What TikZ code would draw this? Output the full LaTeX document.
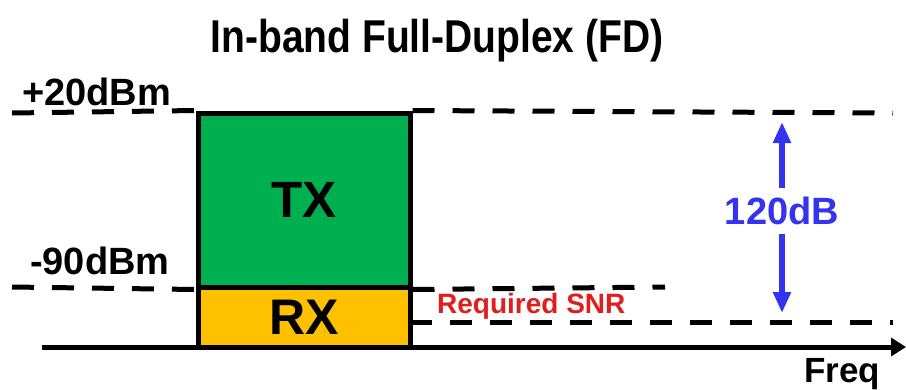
\documentclass[tikz,border=0pt]{standalone}
\usepackage{fontspec}
\setmainfont{Liberation Sans}
\usetikzlibrary{arrows.meta}
\definecolor{txgreen}{RGB}{0,176,80}
\definecolor{rxorange}{RGB}{255,192,0}
\definecolor{dbblue}{RGB}{51,51,240}
\definecolor{snrred}{RGB}{225,30,30}
\tikzset{
  bandbox/.style={draw=black, line width=5pt, minimum width=212pt, inner sep=0pt, font=\bfseries\fontsize{51}{51}\selectfont},
  level/.style={line width=5pt, dash pattern=on 22pt off 18pt},
  lbl/.style={inner sep=0pt, font=\bfseries\fontsize{38}{38}\selectfont},
  dbarrow/.style={draw=dbblue, line width=5.5pt, -{Triangle[width=17pt,length=21pt]}},
}
\begin{document}
\begin{tikzpicture}[x=1pt,y=-1pt]
\useasboundingbox (0,0) rectangle (906,389);
% title
\node[inner sep=0pt, anchor=base] (title) at (437,52)
  {\scalebox{1}[1.18]{\bfseries\fontsize{39}{39}\selectfont In-band Full-Duplex (FD)}};
% boxes
\node[bandbox, fill=txgreen, minimum height=174pt] (tx) at (304,200) {TX};
\node[bandbox, fill=rxorange, minimum height=60pt, font=\bfseries\fontsize{50}{50}\selectfont] (rx) at (304,317) {RX};
% coordinates
\coordinate (l20) at (12,113);
\coordinate (l90) at (12,287);
\coordinate (r20) at (893,113);
\coordinate (r90) at (665,287);
\coordinate (rsnr) at (893,322);
\coordinate (snrl) at (410,322);
\coordinate (ax0) at (42,347);
\coordinate (ax1) at (906,347);
% level lines
\draw[level] (l20) -- (tx.north west);
\draw[level] (l90) -- (tx.south west);
\draw[level] (tx.north east) -- (r20);
\draw[level] (tx.south east) -- (r90);
\draw[level] (snrl) -- (rsnr);
% axis
\draw[line width=5pt, -{Triangle[width=18pt,length=15pt]}] (ax0) -- (ax1);
% labels
\node[lbl, anchor=base west] (p20) at (22,105) {+20dBm};
\node[lbl, anchor=base west] (m90) at (30,274) {-90dBm};
\node[inner sep=0pt, anchor=base west, text=snrred, font=\bfseries\fontsize{28}{28}\selectfont] (snr) at (437,313) {Required SNR};
\node[inner sep=0pt, anchor=base west, font=\bfseries\fontsize{35}{35}\selectfont] (freq) at (804,382) {Freq};
% 120 dB
\node[lbl, text=dbblue, inner sep=9pt, text height=27pt, text depth=0pt] (db) at (782,211) {120dB};
\coordinate (dbt) at (782,122);
\coordinate (dbb) at (782,313);
\draw[dbarrow] (db.north) -- (dbt);
\draw[dbarrow] (db.south) -- (dbb);
\end{tikzpicture}
\end{document}
